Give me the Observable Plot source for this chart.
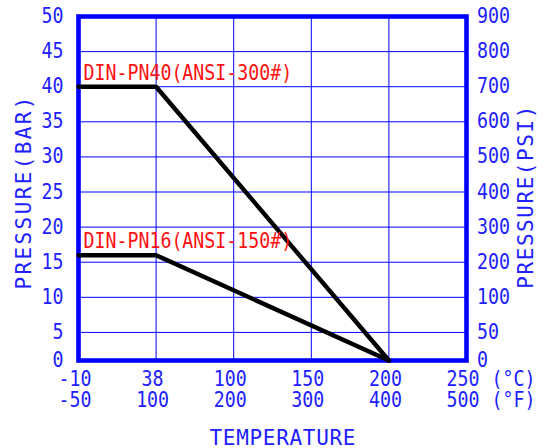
<!DOCTYPE html>
<html><head><meta charset="utf-8">
<script src="https://cdn.jsdelivr.net/npm/d3@7"></script>
<script src="https://cdn.jsdelivr.net/npm/@observablehq/plot@0.6"></script>
<style>body{margin:0;background:#fff;} svg{display:block}</style>
</head><body><div id="chart"></div>
<script>
// Temperature axis: equally spaced tick positions with two label rows
const tempC = [-10, 38, 100, 150, 200, 250];
const tempF = [-50, 100, 200, 300, 400, 500];
// Pressure axis tick labels (left in bar, right in psi as printed)
const barTicks = [0, 5, 10, 15, 20, 25, 30, 35, 40, 45, 50];
const psiTicks = [0, 50, 100, 200, 300, 400, 500, 600, 700, 800, 900];
// Series
const seriesNames = ["DIN-PN40(ANSI-300#)", "DIN-PN16(ANSI-150#)"];
const pn40Temp = [-10, 38, 200];
const pn40Bar = [40, 40, 0];
const pn16Temp = [-10, 38, 200];
const pn16Bar = [16, 16, 0];

const BLUE = "#0000ff", TXT = "#2020ff", RED = "#ff1010";
const seriesTemp = [pn40Temp, pn16Temp];
const seriesBar = [pn40Bar, pn16Bar];
const rows = seriesNames.flatMap((s, k) => seriesTemp[k].map((t, i) => ({series: s, pos: tempC.indexOf(t), bar: seriesBar[k][i]})));
const labelRows = seriesNames.map((s, k) => ({series: s, pos: tempC.indexOf(seriesTemp[k][0]), bar: seriesBar[k][0]}));

// the printed chart squeezes its lowest 0–5 bar band
const squeeze = v => v >= 5 ? v : 5 - (5 - v) * 0.8;

const svg = Plot.plot({
  width: 549, height: 448,
  marginLeft: 78, marginRight: 83, marginTop: 16, marginBottom: 88,
  style: {fontFamily: "'DejaVu Sans Mono', monospace", fontSize: "20.5px", background: "#fff"},
  x: {domain: [0, 5], axis: null},
  y: {transform: squeeze, domain: [squeeze(0), 50], axis: null},
  marks: [
    Plot.ruleX(d3.range(1, tempC.length - 1), {stroke: BLUE, strokeWidth: 1}),
    Plot.ruleY(barTicks.filter(v => v > 0 && v < 50), {stroke: BLUE, strokeWidth: 1}),
    Plot.frame({stroke: BLUE, strokeWidth: 4.6}),
    Plot.line(rows, {x: "pos", y: "bar", z: "series", stroke: "black", strokeWidth: 4.4}),
    Plot.text(labelRows, {x: "pos", y: "bar", text: "series", fill: RED, textAnchor: "start", lineAnchor: "bottom", dx: 5, dy: -7}),
    Plot.text(barTicks, {x: () => 0, y: d => d, text: d => String(d), fill: TXT, textAnchor: "end", dx: -15}),
    Plot.text(barTicks, {x: () => tempC.length - 1, y: d => d, text: (d, i) => String(psiTicks[i]), fill: TXT, textAnchor: "start", dx: 10.5}),
    Plot.text(tempC, {x: (d, i) => i, frameAnchor: "bottom", text: d => String(d), fill: TXT, dx: -3.5, dy: 25}),
    Plot.text(tempF, {x: (d, i) => i, frameAnchor: "bottom", text: d => String(d), fill: TXT, dx: -3.5, dy: 46.5}),
    Plot.text(["(°C)"], {x: () => tempC.length - 1, frameAnchor: "bottom", text: d => d, fill: TXT, textAnchor: "start", dx: 25, dy: 25}),
    Plot.text(["(°F)"], {x: () => tempC.length - 1, frameAnchor: "bottom", text: d => d, fill: TXT, textAnchor: "start", dx: 25, dy: 46.5}),
    Plot.text(["PRESSURE(BAR)"], {frameAnchor: "left", textAnchor: "middle", text: d => d, fill: TXT, rotate: -90, fontSize: 21, dx: -54, dy: 4.5}),
    Plot.text(["PRESSURE(PSI)"], {frameAnchor: "right", textAnchor: "middle", text: d => d, fill: TXT, rotate: -90, fontSize: 21, dx: 59.5, dy: 8.7}),
    Plot.text(["TEMPERATURE"], {frameAnchor: "bottom", textAnchor: "middle", text: d => d, fill: TXT, fontSize: 21, lineAnchor: "bottom", dx: 10, dy: 84})
  ]
});
document.getElementById("chart").append(svg);
const titleLen = {"PRESSURE(BAR)": 193, "PRESSURE(PSI)": 183, "TEMPERATURE": 146};
svg.querySelectorAll("text").forEach(t => {
  const s = t.textContent;
  const w = t.getComputedTextLength();
  if (titleLen[s]) {
    t.setAttribute("textLength", titleLen[s]);
    t.setAttribute("lengthAdjust", "spacing");
  } else {
    t.setAttribute("textLength", w * 0.89);
    t.setAttribute("lengthAdjust", "spacingAndGlyphs");
  }
});
</script>
</body></html>
